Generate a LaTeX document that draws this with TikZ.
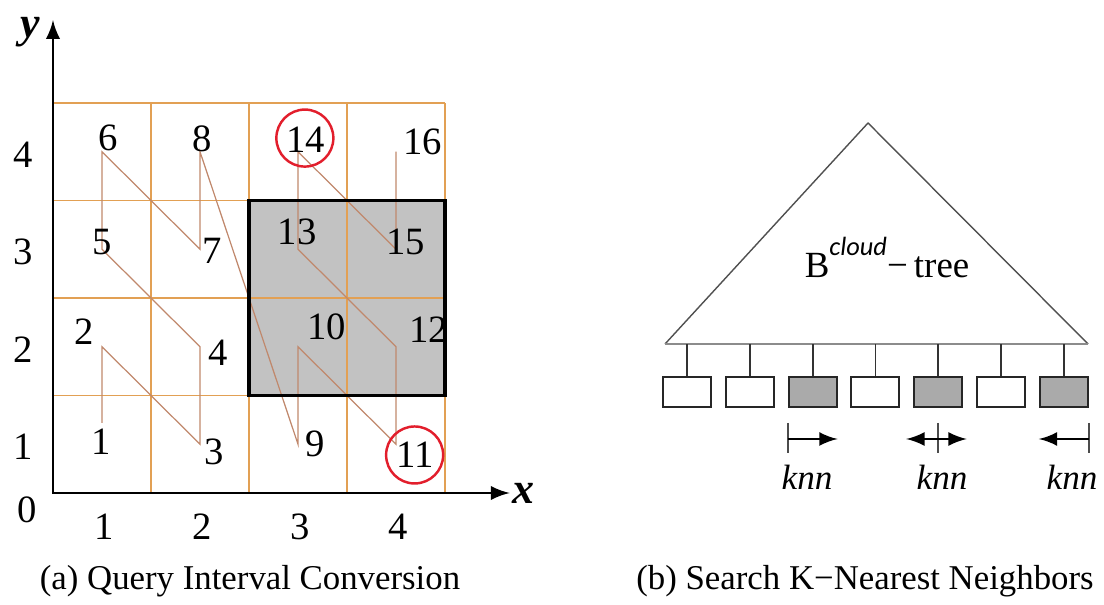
\documentclass[tikz,border=0pt]{standalone}
\usepackage{fontspec}
\setmainfont{Liberation Serif}
\newfontfamily\cloudfont{Carlito}
\usetikzlibrary{arrows,positioning}

\definecolor{gridorange}{RGB}{226,160,84}
\definecolor{zbrown}{RGB}{192,136,108}
\definecolor{querygray}{RGB}{194,194,194}
\definecolor{leafgray}{RGB}{170,170,170}
\definecolor{hitred}{RGB}{226,30,44}
\definecolor{treegray}{RGB}{80,80,80}

\begin{document}
\begin{tikzpicture}[>=latex,
	num/.style={font=\fontsize{11}{13}\selectfont, inner sep=0pt},
	axis/.style={font=\fontsize{12.5}{14}\selectfont\bfseries\itshape},
	gridline/.style={gridorange, line width=0.45pt},
	hit/.style={circle, draw=hitred, line width=0.7pt, minimum size=0.57cm, inner sep=0pt},
	leaf/.style={draw=black!85, line width=0.55pt, minimum width=0.48cm, minimum height=0.30cm, inner sep=0pt},
	tick/.style={black!70, line width=0.5pt},
	knnarrow/.style={line width=0.8pt},
	knn/.style={font=\fontsize{10}{12}\selectfont\itshape},
	caption/.style={font=\fontsize{9.9}{12}\selectfont, anchor=base}]

\useasboundingbox (0,0) rectangle (11.04,6.04);

\begin{scope}[shift={(0.53,1.11)}, x=0.98cm, y=0.975cm]
\fill[querygray] (2,1) rectangle (4,3);
\foreach \k in {1,...,4}
{
	\draw[gridline] (\k,0) -- (\k,4);
	\draw[gridline] (0,\k) -- (4,\k);
}

\foreach \n/\i/\j in {1/1/1,2/1/2,3/2/1,4/2/2,5/1/3,6/1/4,7/2/3,8/2/4,
	9/3/1,10/3/2,11/4/1,12/4/2,13/3/3,14/3/4,15/4/3,16/4/4}
{
	\coordinate (z\n) at (\i-0.5,\j-0.5);
}
\coordinate (zs) at (0.5,0.72);
\draw[zbrown, line width=0.35pt] (zs) \foreach \n in {2,...,16}{ -- (z\n)};

\draw[line width=1pt] (2,1) rectangle (4,3);

\draw[<->, line width=0.85pt]
	(0,4.85) coordinate[label={[axis, yshift=-0.12cm]left:y}] (ytip)
	-- (0,0) coordinate (origin)
	-- (4.66,0) coordinate[label={[axis, label distance=-3pt]right:x}] (xtip);

\node[num] (zero) at (-0.26,-0.17) {0};
\foreach \k in {1,...,4}
{
	\node[num] (xl\k) at (\k-0.48,-0.35) {\k};
	\node[num] (yl\k) at (-0.30,\k-0.53) {\k};
}

\foreach \n/\x/\y in {1/0.49/0.53, 2/0.32/1.65, 3/1.64/0.42, 4/1.69/1.44,
	5/0.50/2.57, 6/0.56/3.64, 7/1.62/2.48, 8/1.52/3.63,
	9/2.67/0.50, 10/2.79/1.70, 11/3.70/0.39, 12/3.83/1.67,
	13/2.49/2.68, 14/2.58/3.62, 15/3.60/2.58, 16/3.77/3.60}
{
	\node[num] (n\n) at (\x,\y) {\n};
}
\node[hit] (ring11) at (3.69,0.39) {};
\node[hit] (ring14) at (2.57,3.64) {};
\end{scope}

\coordinate (apex) at (8.68,4.81);
\coordinate (bl) at (6.65,2.60);
\coordinate (br) at (10.88,2.60);
\draw[treegray, line width=0.4pt, line join=round] (bl) -- (apex) -- (br);
\draw[black!45, line width=0.6pt] (bl) -- (br);
\node[anchor=base, font=\fontsize{10.5}{12}\selectfont] (tname) at (8.87,3.26)
	{B\raisebox{6.5pt}{\fontsize{7.5}{9}\selectfont\cloudfont\itshape cloud}−\,tree};

\foreach \i/\f in {1/white,2/white,3/leafgray,4/white,5/leafgray,6/white,7/leafgray}
{
	\node[leaf, fill=\f] (leaf\i) at ({6.87+0.628*(\i-1)},2.12) {};
	\draw[black!80, line width=0.5pt] (leaf\i.north) -- (leaf\i.north |- bl);
}

\coordinate (kt) at (0,1.81);
\coordinate (kb) at (0,1.51);
\coordinate (ka) at (0,1.65);
\draw[tick] (leaf3.west |- kt) -- (leaf3.west |- kb);
\draw[->, knnarrow] (leaf3.west |- ka) -- (leaf3.east |- ka);
\draw[tick] (leaf5 |- kt) -- (leaf5 |- kb);
\draw[<->, knnarrow, shorten <=-2pt, shorten >=-1pt] (leaf5.west |- ka) -- (leaf5.east |- ka);
\draw[tick] (leaf7.east |- kt) -- (leaf7.east |- kb);
\draw[->, knnarrow] (leaf7.east |- ka) -- (leaf7.west |- ka);

\foreach \i/\x in {1/8.07,2/9.42,3/10.72}
{
	\node[knn] (knn\i) at (\x,1.27) {knn};
}

\node[caption] (capa) at (2.50,0.14) {(a) Query Interval Conversion};
\node[caption] (capb) at (8.65,0.14) {(b) Search K−Nearest Neighbors};

\end{tikzpicture}
\end{document}
